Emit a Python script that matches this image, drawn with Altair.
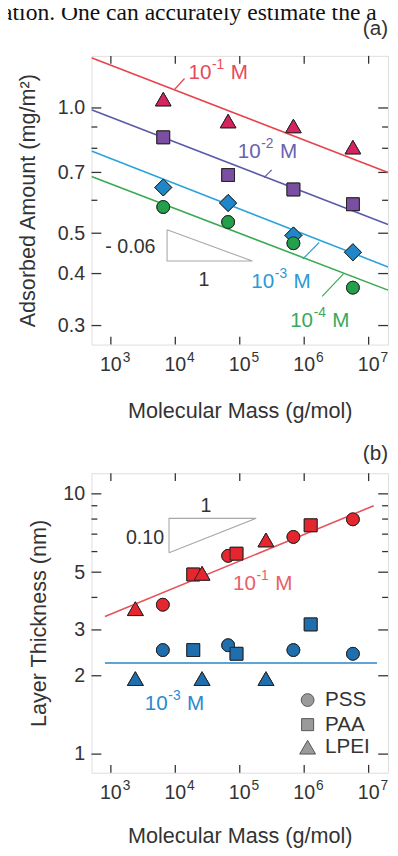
import altair as alt
import pandas as pd

FONT = "Liberation Sans"
INK = "#333333"
W = 302
HA = 294
HB = 305

# cropped body text above the figure
body_text = "ation. One can accurately estimate the adsorbed"

# ---------------- panel (a): adsorbed amount ----------------
mass_a = [6.5e3, 6.6e4, 6.8e5, 5.7e6]
ads_m1 = [1.05, 0.93, 0.905, 0.805]      # 10^-1 M (triangles)
ads_m2 = [0.85, 0.69, 0.637, 0.587]      # 10^-2 M (squares)
ads_m3 = [0.644, 0.591, 0.494, 0.450]    # 10^-3 M (diamonds)
ads_m4 = [0.578, 0.532, 0.473, 0.370]    # 10^-4 M (circles)
fit_mass_a = [5.0e2, 2.0e7]
fit_m1 = [1.32, 0.70]
fit_m2 = [0.99, 0.525]
fit_m3 = [0.788, 0.415]
fit_m4 = [0.684, 0.365]

# ---------------- panel (b): layer thickness ----------------
pss_mass = [6.4e3, 6.6e4, 6.8e5, 5.7e6]
paa_mass = [1.9e4, 8.9e4, 1.26e6]
lpei_mass = [2.4e3, 2.6e4, 2.55e5]
thick_pss_m1 = [3.75, 5.78, 6.83, 7.98]
thick_paa_m1 = [4.9, 5.89, 7.57]
thick_lpei_m1 = [3.62, 4.95, 6.65]
thick_pss_m3 = [2.51, 2.62, 2.51, 2.43]
thick_paa_m3 = [2.51, 2.43, 3.15]
thick_lpei_m3 = [1.95, 1.95, 1.95]
fit_b_m1_mass = [8.1e2, 1.2e7]
fit_b_m1 = [3.38, 9.0]
fit_b_m3_mass = [8.1e2, 1.35e7]
fit_b_m3 = [2.24, 2.24]

# ---------------- axes ----------------
x_decades = [1e3, 1e4, 1e5, 1e6, 1e7]
x_exponents = ["3", "4", "5", "6", "7"]
ya_ticks = [0.3, 0.4, 0.5, 0.6, 0.7, 0.8, 0.9, 1.0]
ya_labels = [0.3, 0.4, 0.5, 0.7, 1.0]
yb_ticks = [1, 2, 3, 4, 5, 6, 7, 8, 9, 10]
yb_labels = [1, 2, 3, 5, 10]

xs = alt.Scale(type="log", domain=[5.0e2, 2.0e7], nice=False)
ysa = alt.Scale(type="log", domain=[0.27, 1.334], nice=False)
ysb = alt.Scale(type="log", domain=[0.848, 12.0], nice=False)


def x_axis(title_pad):
    return alt.Axis(values=x_decades, labels=False, ticks=False, tickSize=0,
                    domain=False, grid=False,
                    title="Molecular Mass (g/mol)", titleFont=FONT, titleFontSize=22,
                    titleFontWeight="normal", titleColor=INK, titlePadding=title_pad)


def y_axis(vals, fmt, title, title_pad):
    return alt.Axis(values=vals, format=fmt, ticks=False, tickSize=0, domain=False,
                    grid=False, labelFont=FONT, labelFontSize=20, labelColor=INK,
                    labelPadding=7, labelFlush=False, labelOverlap=False,
                    title=title, titleFont=FONT, titleFontSize=22,
                    titleFontWeight="normal", titleColor=INK, titlePadding=title_pad)


class Panel:
    def __init__(self, ys, yax, xax, H):
        self.ys, self.yax, self.xax, self.H = ys, yax, xax, H

    def X(self, field="x"):
        return alt.X(f"{field}:Q", scale=xs, axis=self.xax)

    def Y(self, field="y"):
        return alt.Y(f"{field}:Q", scale=self.ys, axis=self.yax)

    def frame_ticks(self, majors, minors):
        H = self.H
        dx = pd.DataFrame({"x": x_decades, "e": x_exponents})
        layers = [
            alt.Chart(dx).mark_rule(color=INK, strokeWidth=1.3).encode(
                x=self.X(), y=alt.value(H), y2=alt.value(H - 8)),
            alt.Chart(dx).mark_rule(color=INK, strokeWidth=1.3).encode(
                x=self.X(), y=alt.value(0), y2=alt.value(8)),
            # decade tick labels: "10" with a raised exponent
            alt.Chart(dx).mark_text(font=FONT, fontSize=20, color=INK, align="center",
                                    baseline="middle").encode(
                x=self.X(), y=alt.value(H + 21), text=alt.value("10")),
            alt.Chart(dx).mark_text(font=FONT, fontSize=14, color=INK, align="left",
                                    baseline="middle", dx=12).encode(
                x=self.X(), y=alt.value(H + 14), text="e:N"),
        ]
        for vals, ln in ((majors, 10), (minors, 6)):
            d = pd.DataFrame({"y": vals})
            layers.append(alt.Chart(d).mark_rule(color=INK, strokeWidth=1.3).encode(
                y=self.Y(), x=alt.value(0), x2=alt.value(ln)))
            layers.append(alt.Chart(d).mark_rule(color=INK, strokeWidth=1.3).encode(
                y=self.Y(), x=alt.value(W), x2=alt.value(W - ln)))
        return layers

    def lines(self, rows):
        return alt.Chart(pd.DataFrame(rows)).mark_line(strokeWidth=1.6, clip=True).encode(
            x=self.X(), y=self.Y(), detail="g:N", color=alt.Color("c:N", scale=None))

    def points(self, rows, stroke="#262626"):
        return alt.Chart(pd.DataFrame(rows)).mark_point(
            filled=True, opacity=1, stroke=stroke, strokeWidth=1).encode(
            x=self.X(), y=self.Y(),
            fill=alt.Fill("c:N", scale=None), shape=alt.Shape("s:N", scale=None),
            size=alt.Size("sz:Q", scale=None))

    def texts(self, rows, size=20, align="left", dx=0, dy=0):
        return alt.Chart(pd.DataFrame(rows)).mark_text(
            font=FONT, fontSize=size, align=align, baseline="middle", dx=dx, dy=dy).encode(
            x=self.X(), y=self.Y(), text="t:N", color=alt.Color("c:N", scale=None))

    def conc_labels(self, xv, yv, sup, cols):
        base = [{"x": a, "y": b, "t": "10", "c": c} for a, b, c in zip(xv, yv, cols)]
        sups = [{"x": a, "y": b, "t": s, "c": c} for a, b, s, c in zip(xv, yv, sup, cols)]
        unit = [{"x": a, "y": b, "t": "M", "c": c} for a, b, c in zip(xv, yv, cols)]
        return [self.texts(base, 21), self.texts(sups, 14, dx=24, dy=-8),
                self.texts(unit, 21, dx=43)]

    def seg(self, rows, width=1.2):
        return alt.Chart(pd.DataFrame(rows)).mark_rule(strokeWidth=width).encode(
            x=self.X(), x2="x2:Q", y=self.Y(), y2="y2:Q",
            color=alt.Color("c:N", scale=None))

    def slope_triangle(self, xv, yv):
        df = pd.DataFrame({"x": xv, "y": yv, "o": list(range(len(xv)))})
        return alt.Chart(df).mark_line(color="#a8a8a8", strokeWidth=1.1).encode(
            x=self.X(), y=self.Y(), order="o:Q")

    def free_text(self, t, xpix, ypix, size, align, font=FONT, color=INK,
                  baseline="middle", limit=0):
        return alt.Chart(pd.DataFrame({"t": [t]})).mark_text(
            font=font, fontSize=size, align=align, baseline=baseline, color=color,
            limit=limit, ellipsis=" ").encode(
            text="t:N", x=alt.value(xpix), y=alt.value(ypix))


# ---------------- build panel (a) ----------------
CA = {"m1": "#d6245e", "m2": "#7a4ea0", "m3": "#1f87c9", "m4": "#23a04b"}
LA = {"m1": "#e8434b", "m2": "#5b5aa8", "m3": "#2ba3da", "m4": "#3aaa52"}
TA = {"m1": "#e84a5c", "m2": "#6a62b0", "m3": "#2a9ad6", "m4": "#3aa85c"}

line_rows_a = []
for g, fy in (("m1", fit_m1), ("m2", fit_m2), ("m3", fit_m3), ("m4", fit_m4)):
    for xv, yv in zip(fit_mass_a, fy):
        line_rows_a.append({"x": xv, "y": yv, "g": g, "c": LA[g]})

pt_rows_a = []
for g, vals, shp, sz in (("m1", ads_m1, "triangle-up", 250), ("m2", ads_m2, "square", 170),
                         ("m3", ads_m3, "diamond", 300), ("m4", ads_m4, "circle", 170)):
    for xv, yv in zip(mass_a, vals):
        pt_rows_a.append({"x": xv, "y": yv, "c": CA[g], "s": shp, "sz": sz})

pa = Panel(ysa, y_axis(ya_labels, ".1f", "Adsorbed Amount (mg/m²)", 18), x_axis(57), HA)
layers_a = [pa.points(pt_rows_a)]
layers_a += pa.frame_ticks(ya_labels, [v for v in ya_ticks if v not in ya_labels])
layers_a += [
    pa.slope_triangle([7.45e3, 7.45e3, 1.57e5, 7.45e3], [0.510, 0.4286, 0.4286, 0.510]),
    pa.texts([{"x": 4.92e3, "y": 0.4624, "t": "- 0.06", "c": INK}], 20, align="right"),
    pa.texts([{"x": 2.78e4, "y": 0.3867, "t": "1", "c": INK}], 20, align="center"),
    pa.lines(line_rows_a),
    pa.seg([
        {"x": 9.8e3, "y": 1.109, "x2": 1.39e4, "y2": 1.177, "c": LA["m1"]},
        {"x": 2.38e5, "y": 0.680, "x2": 3.13e5, "y2": 0.710, "c": LA["m2"]},
        {"x": 9.5e5, "y": 0.4335, "x2": 1.71e6, "y2": 0.475, "c": LA["m3"]},
        {"x": 1.9e6, "y": 0.3525, "x2": 4.06e6, "y2": 0.3995, "c": LA["m4"]},
    ]),
]
layers_a += pa.conc_labels([1.6e4, 9.3e4, 1.51e5, 6.05e5], [1.216, 0.783, 0.3825, 0.3078],
                           ["-1", "-2", "-3", "-4"], [TA["m1"], TA["m2"], TA["m3"], TA["m4"]])
layers_a.append(pa.points(pt_rows_a))
layers_a.append(pa.free_text("(a)", W, -27, 21, "right"))
layers_a.append(pa.free_text(body_text, -91, -37, 24, "left", font="Liberation Serif",
                             color="#111111", baseline="alphabetic", limit=392))

panel_a = alt.layer(*layers_a).properties(width=W, height=HA)

# ---------------- build panel (b) ----------------
RED_F, BLUE_F = "#e6262e", "#1f6fae"
RED_L, BLUE_L = "#e8505a", "#2a86c8"
RED_T, BLUE_T = "#e8606a", "#2a8ad0"

line_rows_b = []
for xv, yv in zip(fit_b_m1_mass, fit_b_m1):
    line_rows_b.append({"x": xv, "y": yv, "g": "m1", "c": RED_L})
for xv, yv in zip(fit_b_m3_mass, fit_b_m3):
    line_rows_b.append({"x": xv, "y": yv, "g": "m3", "c": BLUE_L})

pt_rows_b = []
for col, sets in ((RED_F, ((pss_mass, thick_pss_m1, "circle", 170),
                           (paa_mass, thick_paa_m1, "square", 170),
                           (lpei_mass, thick_lpei_m1, "triangle-up", 260))),
                  (BLUE_F, ((pss_mass, thick_pss_m3, "circle", 170),
                            (paa_mass, thick_paa_m3, "square", 170),
                            (lpei_mass, thick_lpei_m3, "triangle-up", 260)))):
    for ms, vals, shp, sz in sets:
        for xv, yv in zip(ms, vals):
            pt_rows_b.append({"x": xv, "y": yv, "c": col, "s": shp, "sz": sz})

legend_names = ["PSS", "PAA", "LPEI"]
legend_shapes = ["circle", "square", "triangle-up"]
legend_y = [1.613, 1.298, 1.063]
leg_pts = [{"x": 1.13e6, "y": yv, "c": "#9a9a9a", "s": s, "sz": sz}
           for yv, s, sz in zip(legend_y, legend_shapes, [170, 150, 260])]
leg_txt = [{"x": 2.1e6, "y": yv, "t": n, "c": INK} for yv, n in zip(legend_y, legend_names)]

pb = Panel(ysb, y_axis(yb_labels, "d", "Layer Thickness (nm)", 13), x_axis(54), HB)
layers_b = [pb.points(pt_rows_b)]
layers_b += pb.frame_ticks(yb_labels, [v for v in yb_ticks if v not in yb_labels])
layers_b += [
    pb.slope_triangle([7.98e3, 7.98e3, 1.8e5, 7.98e3], [5.94, 8.05, 8.05, 5.94]),
    pb.texts([{"x": 2.98e4, "y": 9.01, "t": "1", "c": INK}], 20, align="center"),
    pb.texts([{"x": 6.7e3, "y": 6.76, "t": "0.10", "c": INK}], 20, align="right"),
    pb.lines(line_rows_b),
    pb.texts(leg_txt, 21),
]
layers_b += pb.conc_labels([7.85e4, 3.36e3], [4.5, 1.557], ["-1", "-3"], [RED_T, BLUE_T])
layers_b.append(pb.points(pt_rows_b))
layers_b.append(pb.points(leg_pts, stroke="#555555"))
layers_b.append(pb.free_text("(b)", W, -19, 21, "right"))

panel_b = alt.layer(*layers_b).properties(width=W, height=HB)

chart = alt.vconcat(panel_a, panel_b, spacing=21).properties(
    padding={"left": -7, "top": -16, "right": 0, "bottom": 0}
).configure_view(stroke="#3a3a3a", strokeWidth=1.5).configure(background="white")

chart.save("out.html", embed_options={"renderer": "svg", "actions": False})
